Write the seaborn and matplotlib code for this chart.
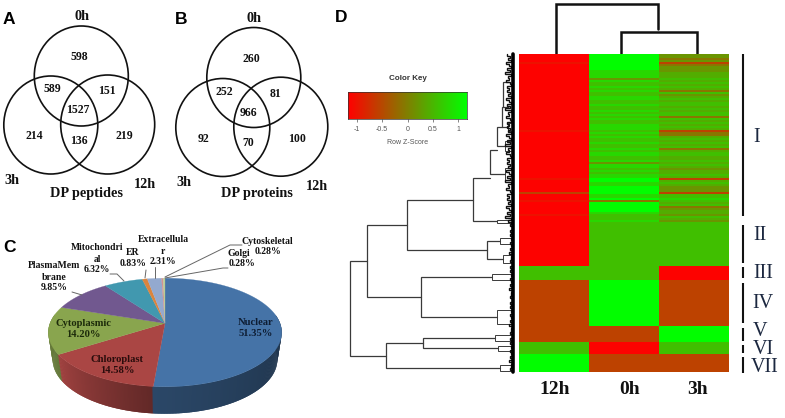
import numpy as np
import seaborn as sns
import matplotlib
matplotlib.use("Agg")
import matplotlib.pyplot as plt
from matplotlib.colors import LinearSegmentedColormap
from matplotlib.patches import Ellipse

# ---------- data ----------
venn_a_values = ["598", "589", "151", "1527", "214", "136", "219"]
venn_b_values = ["260", "252", "81", "966", "92", "70", "100"]
pie_labels = ["Nuclear", "Chloroplast", "Cytoplasmic", "PlasmaMembrane", "Mitochondrial",
              "ER", "Extracellular", "Golgi", "Cytoskeletal"]
pie_values = [51.35, 14.58, 14.20, 9.85, 6.32, 0.83, 2.31, 0.28, 0.28]
pie_colors = ["#4573a7", "#aa4644", "#89a54e", "#71588f", "#4198af",
              "#db843d", "#93a9cf", "#d19392", "#b9cd96"]
wall_shade_start = [0.25, 0.58, 0.72, 0.6, 0.6, 0.6, 0.6, 0.6, 0.6]
wall_shade_end = [0.62, 0.95, 0.80, 0.7, 0.7, 0.7, 0.7, 0.7, 0.7]

heat_columns = ["12h", "0h", "3h"]
z_code = dict(a=-1.15, b=-1.0, c=-0.56, d=-0.1, e=0.2, f=0.42, g=0.58, h=0.8, i=1.15)
cluster_i_12h = ("aaaabaaaaa" "aaaaaaaaaa" "aaaaaaaaaa" "aaaaaaaaba" "aaaaaaaaaa"
                 "aaaaaaaaaa" "aabaaaaaac" "aaabaaaaaa" "baaa")
cluster_i_0h = ("iiiiiiiihh" "hhehgghghg" "ghhgghgghg" "hghgghhhgh" "ghgghgghgh"
                "hgghehhghg" "hhiihhiiii" "hhidiiiiih" "gggh")
cluster_i_3h = ("eedecdeeef" "ffgfgfgfdg" "efgfggfgfg" "gdgfgfgfcd" "dfgfgfgdfg"
                "gffgfgfeff" "gfcfgfeeec" "gghgfgdeff" "egfe")
other_cluster_sizes = [22, 7, 23, 8, 6, 9]
other_cluster_12h = ["a", "g", "c", "c", "g", "i"]
other_cluster_0h = ["g", "g", "i", "c", "a", "c"]
other_cluster_3h = ["g", "a", "c", "i", "g", "c"]
cluster_names = ["I", "II", "III", "IV", "V", "VI", "VII"]
key_ticks = [-1, -0.5, 0, 0.5, 1]
key_tick_labels = ["-1", "-0.5", "0", "0.5", "1"]

# row dendrogram merges: height, upper branch (row, end), lower branch (row, end)
dend_x = [350, 367, 407, 473, 490, 497, 502, 503, 487, 421, 386, 423]
dend_top_y = [261, 225, 200, 178, 150, 127, 107, 82, 241, 277, 343, 338]
dend_top_end = [367, 407, 473, 490, 497, 502, 503, 508, 500, 492, 423, 495]
dend_bot_y = [356, 297, 250, 221, 174, 146, 127, 107, 259, 317, 368, 348]
dend_bot_end = [386, 421, 487, 497, 505, 510, 508, 508, 503, 497, 500, 498]
# small sub-trees at the ends of the main branches: height, centre row, half spread
sub_x = [497, 500, 503, 492, 497, 495, 498, 500, 505, 505, 508]
sub_y = [221, 241, 259, 277, 317, 338, 348, 368, 174, 146, 127]
sub_half = [1.5, 3, 4, 3, 7, 3, 2.5, 3, 6, 5, 4]
leaf_depths = [6, 3, 5, 2, 7, 4, 2, 6, 3, 8, 2, 5, 4, 7, 3, 2, 6, 4]

# ---------- figure ----------
sns.set_theme(style="white")
W, H = 785, 418
SERIF = "Liberation Serif"
fig = plt.figure(figsize=(W / 100, H / 100), dpi=100, facecolor="white")
bg = fig.add_axes([0, 0, 1, 1])
bg.set_xlim(0, W)
bg.set_ylim(H, 0)
bg.axis("off")


def px_axes(x0, y0, x1, y1):
    return fig.add_axes([x0 / W, 1 - y1 / H, (x1 - x0) / W, (y1 - y0) / H])


def stext(x, y, s, size=8.5, color="#111111", weight="bold", ha="center", family=SERIF, step=11.5):
    lines = s.split("\n")
    top = y - step * (len(lines) - 1) / 2
    for i, line in enumerate(lines):
        bg.text(x, top + i * step, line, fontsize=size, color=color, fontweight=weight,
                ha=ha, va="center", family=family)


# panel letters
for (x, y, s) in [(9, 20, "A"), (181, 20, "B"), (9, 247, "C"), (341, 18, "D")]:
    stext(x, y, s, size=12.5, color="black", family="Liberation Sans")

# ---------- Venns ----------
venn_a_circles = [(81.3, 76, 47, 50), (50.8, 125, 47, 49), (107.7, 124.5, 47, 49.5)]
venn_b_circles = [(253.8, 77.5, 47, 50), (222.8, 127.5, 47, 49), (280.8, 126.7, 47, 49.5)]
for cx, cy, rx, ry in venn_a_circles + venn_b_circles:
    bg.add_patch(Ellipse((cx, cy), 2 * rx, 2 * ry, fill=False, ec="#111111", lw=1.2))
venn_a_pos = [(79, 57), (52, 89), (107, 91), (78, 110), (34, 136), (79, 141), (124, 136)]
venn_b_pos = [(251, 59), (224, 92), (276, 94), (248, 113), (203, 139), (248, 143), (297, 139)]
for (x, y), s in zip(venn_a_pos + venn_b_pos, venn_a_values + venn_b_values):
    stext(x, y, s, size=8.5)
for (x, y, s) in [(82, 17, "0h"), (12, 181, "3h"), (145, 184, "12h"), (87, 193, "DP peptides"),
                  (254, 19, "0h"), (184, 183, "3h"), (317, 187, "12h"), (257, 193, "DP proteins")]:
    stext(x, y, s, size=10.3)

# ---------- 3D pie ----------
HUB_X, HUB_Y, SX, SY, PERSP, DEPTH, FOOT = 165, 323.3, 115, 52.7, 0.169, 27, 0.963


def project(theta):
    u, v = np.cos(theta), np.sin(theta)
    d = 1 + PERSP * v
    return HUB_X + SX * u / d, HUB_Y - SY * v / d


edges = np.radians(90 - 3.6 * np.cumsum([0] + pie_values))
strips = []
for i, col in enumerate(pie_colors):
    base = np.array(matplotlib.colors.to_rgb(col))
    n = max(2, int(abs(edges[i] - edges[i + 1]) * 90))
    th = np.linspace(edges[i], edges[i + 1], n + 1)
    dth = th[1] - th[0]
    for j in range(n):
        shade = wall_shade_start[i] + (wall_shade_end[i] - wall_shade_start[i]) * j / n
        strips.append((np.sin(th[j]), th[j] - 0.6 * dth, th[j + 1] + 0.6 * dth, base * shade))
for _, t0, t1, c in sorted(strips, key=lambda s: -s[0]):
    if np.sin(t0) < 0.15 or np.sin(t1) < 0.15:
        x0, y0 = project(t0)
        x1, y1 = project(t1)
        xb0 = HUB_X + (x0 - HUB_X) * FOOT
        xb1 = HUB_X + (x1 - HUB_X) * FOOT
        bg.fill([x0, x1, xb1, xb0], [y0, y1, y1 + DEPTH, y0 + DEPTH], color=c, lw=0)
for i, col in enumerate(pie_colors):
    th = np.linspace(edges[i], edges[i + 1], max(4, int(abs(edges[i] - edges[i + 1]) * 60)))
    x, y = project(th)
    bg.fill(np.r_[HUB_X, x], np.r_[HUB_Y, y], color=col, lw=0.2)

stext(256, 328, "Nuclear\n51.35%", size=7.6, color="#0e1d33", step=11)
stext(117, 365, "Chloroplast\n14.58%", size=7.6, color="#2a0c0c", step=11)
stext(83, 329, "Cytoplasmic\n14.20%", size=7.6, color="#1c2a0a", step=11)
stext(54, 277, "PlasmaMem\nbrane\n9.85%", size=7, step=11)
stext(97, 259, "Mitochondri\nal\n6.32%", size=6.9, step=11)
stext(133, 258, "ER\n0.83%", size=7, step=11)
stext(163, 251, "Extracellula\nr\n2.31%", size=7, step=11)
stext(242, 241, "Cytoskeletal", size=7, ha="left")
stext(268, 252, "0.28%", size=7)
stext(239, 253, "Golgi", size=7)
stext(242, 264, "0.28%", size=7)
leaders = [([165, 230, 242], [277, 245, 245]), ([165, 223, 228], [278, 268, 268]),
           ([145, 146], [278, 270]), ([155, 155], [278, 267]),
           ([124, 117, 110], [281, 274, 274]), ([82, 72], [295, 292])]
for xs, ys in leaders:
    bg.plot(xs, ys, color="#666666", lw=0.7)

# ---------- heatmap ----------
col_12h = [z_code[c] for c in cluster_i_12h]
col_0h = [z_code[c] for c in cluster_i_0h]
col_3h = [z_code[c] for c in cluster_i_3h]
for k, size in enumerate(other_cluster_sizes):
    col_12h += [z_code[other_cluster_12h[k]]] * size
    col_0h += [z_code[other_cluster_0h[k]]] * size
    col_3h += [z_code[other_cluster_3h[k]]] * size
matrix = np.array([col_12h, col_0h, col_3h]).T

VMAX = 1.17
cmap = LinearSegmentedColormap.from_list("rg", ["#ff0000", "#00ff00"])
hax = px_axes(519, 54, 729, 372)
sns.heatmap(matrix, ax=hax, cmap=cmap, vmin=-VMAX, vmax=VMAX, cbar=False,
            xticklabels=False, yticklabels=False)
for (x, s) in zip([555, 630, 697], heat_columns):
    stext(x, 390, s, size=14, color="#111111")

# top dendrogram
bg.plot([556, 556, 658, 658], [54, 4, 4, 29], color="#111111", lw=1.8, solid_joinstyle="miter")
bg.plot([621, 621, 697, 697], [54, 31.5, 31.5, 54], color="#111111", lw=1.8, solid_joinstyle="miter")

# row dendrogram
for x, yt, xt, yb, xb in zip(dend_x, dend_top_y, dend_top_end, dend_bot_y, dend_bot_end):
    bg.plot([xt, x, x, xb], [yt, yt, yb, yb], color="#3a3a3a", lw=0.9, solid_joinstyle="miter")
for x, y, h in zip(sub_x, sub_y, sub_half):
    bg.plot([511, x, x, 511], [y - h, y - h, y + h, y + h], color="#3a3a3a", lw=0.7,
            solid_joinstyle="miter")
xs, ys = [], []
for r in range(matrix.shape[0]):
    y = 55 + 2 * r
    depth = leaf_depths[r % len(leaf_depths)]
    if r >= 84:
        depth = depth * 0.5
    xs += [513 - depth, 513 - depth]
    ys += [y - 1, y + 1]
bg.plot(xs, ys, color="#111111", lw=1.0, solid_joinstyle="miter")
bg.plot([512.5, 512.5], [54, 372], color="black", lw=2.6)

# cluster bars and names
bar_spans = [(54, 216), (225, 263), (267, 278), (283, 323), (328, 341), (345, 353), (357, 373)]
name_pos = [(757, 138), (760, 235), (763, 273), (763, 303), (760, 331), (763, 349), (765, 367)]
for (y0, y1), (x, y), s in zip(bar_spans, name_pos, cluster_names):
    bg.plot([743, 743], [y0, y1], color="#111111", lw=1.5, solid_capstyle="butt")
    stext(x, y, s, size=14.5, color="#1c2840", weight="normal")

# ---------- colour key ----------
key_z = np.linspace(-VMAX, VMAX, 200)[np.newaxis, :]
kax = px_axes(348, 92, 467, 119)
sns.heatmap(key_z, ax=kax, cmap=cmap, vmin=-VMAX, vmax=VMAX, cbar=False, yticklabels=False)
kax.set_xticks([(t + VMAX) / (2 * VMAX) * 200 for t in key_ticks])
kax.set_xticklabels(key_tick_labels, rotation=0, fontsize=5, color="#555555", family="Liberation Sans")
kax.tick_params(axis="x", length=2, width=0.5, color="#555555", pad=3, bottom=True)
for sp in kax.spines.values():
    sp.set_visible(True)
    sp.set_linewidth(0.5)
    sp.set_color("#333333")
stext(408, 79, "Color Key", size=5.8, color="#333333", family="Liberation Sans")
stext(408, 142, "Row Z-Score", size=5, color="#555555", weight="normal", family="Liberation Sans")

fig.savefig("out.png", dpi=100)
